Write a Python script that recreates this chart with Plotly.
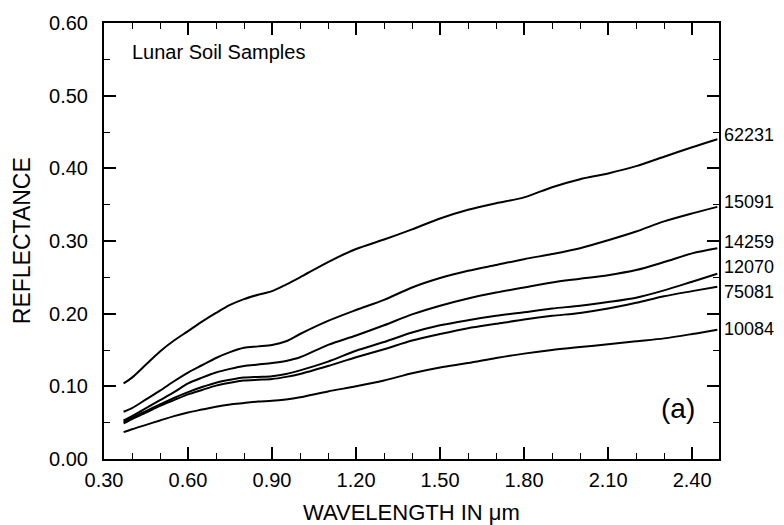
import plotly.graph_objects as go

wavelength = [0.37, 0.40, 0.45, 0.50, 0.55, 0.60, 0.65, 0.70, 0.75, 0.80, 0.85, 0.90, 0.95, 1.00,
              1.10, 1.20, 1.30, 1.40, 1.50, 1.60, 1.70, 1.80, 1.90, 2.00, 2.10, 2.20, 2.30, 2.40, 2.49]

s62231 = [0.104, 0.112, 0.130, 0.148, 0.163, 0.176, 0.189, 0.201, 0.212, 0.220, 0.226, 0.231, 0.240, 0.250,
          0.271, 0.289, 0.302, 0.316, 0.331, 0.343, 0.352, 0.360, 0.374, 0.385, 0.393, 0.403, 0.416, 0.429, 0.440]
s15091 = [0.065, 0.070, 0.082, 0.094, 0.107, 0.119, 0.129, 0.139, 0.147, 0.153, 0.155, 0.157, 0.162, 0.172,
          0.190, 0.205, 0.219, 0.236, 0.249, 0.259, 0.267, 0.275, 0.282, 0.290, 0.301, 0.313, 0.327, 0.338, 0.347]
s14259 = [0.053, 0.059, 0.070, 0.081, 0.092, 0.104, 0.112, 0.119, 0.124, 0.128, 0.130, 0.132, 0.135, 0.140,
          0.157, 0.170, 0.184, 0.199, 0.211, 0.221, 0.229, 0.236, 0.243, 0.248, 0.253, 0.260, 0.271, 0.283, 0.290]
s12070 = [0.051, 0.057, 0.066, 0.075, 0.084, 0.092, 0.099, 0.105, 0.109, 0.112, 0.113, 0.114, 0.117, 0.122,
          0.134, 0.149, 0.161, 0.174, 0.184, 0.191, 0.197, 0.202, 0.207, 0.211, 0.216, 0.222, 0.232, 0.244, 0.255]
s75081 = [0.049, 0.055, 0.064, 0.073, 0.081, 0.089, 0.095, 0.101, 0.105, 0.108, 0.109, 0.110, 0.113, 0.117,
          0.128, 0.140, 0.151, 0.163, 0.172, 0.180, 0.186, 0.192, 0.197, 0.201, 0.207, 0.215, 0.224, 0.231, 0.237]
s10084 = [0.037, 0.041, 0.047, 0.053, 0.059, 0.064, 0.068, 0.072, 0.075, 0.077, 0.079, 0.080, 0.082, 0.085,
          0.093, 0.100, 0.108, 0.118, 0.126, 0.132, 0.139, 0.145, 0.150, 0.154, 0.158, 0.162, 0.166, 0.172, 0.178]

sample_names = ["62231", "15091", "14259", "12070", "75081", "10084"]
series = [s62231, s15091, s14259, s12070, s75081, s10084]
label_yshift = [4, 5, 6, 7, -5, 1]

FONT = "Liberation Sans, Arial, Helvetica, sans-serif"

fig = go.Figure()
for name, vals in zip(sample_names, series):
    fig.add_trace(go.Scatter(x=wavelength, y=vals, mode="lines", name=name,
                             line=dict(color="black", width=2, shape="spline", smoothing=0.8),
                             showlegend=False, hoverinfo="x+y+name"))

annotations = []
for name, vals, ys in zip(sample_names, series, label_yshift):
    annotations.append(dict(x=wavelength[-1], y=vals[-1], xref="x", yref="y", text=name,
                            showarrow=False, xanchor="left", yanchor="middle",
                            xshift=5, yshift=ys, font=dict(size=18, color="black", family=FONT)))

annotations += [
    dict(x=0.042, y=0.934, xref="paper", yref="paper", text="Lunar Soil Samples", showarrow=False,
         xanchor="left", yanchor="middle", font=dict(size=20, color="black", family=FONT)),
    dict(x=0.933, y=0.115, xref="paper", yref="paper", text="(a)", showarrow=False,
         xanchor="center", yanchor="middle", font=dict(size=28, color="black", family=FONT)),
    dict(x=0.5, y=-0.122, xref="paper", yref="paper", text="WAVELENGTH IN μm", showarrow=False,
         xanchor="center", yanchor="middle", font=dict(size=22, color="black", family=FONT)),
    dict(x=-0.133, y=0.5, xref="paper", yref="paper", text="REFLECTANCE", showarrow=False,
         textangle=-90, xanchor="center", yanchor="middle", font=dict(size=23, color="black", family=FONT)),
]

axis_common = dict(showline=True, linecolor="black", linewidth=2, mirror="ticks",
                   ticks="inside", ticklen=12, tickwidth=1.5, tickcolor="black",
                   showgrid=False, zeroline=False, tickformat=".2f", automargin=False,
                   tickfont=dict(size=20, color="black", family=FONT))

fig.update_layout(
    width=768, height=517,
    margin=dict(l=96, r=57, t=15, b=66),
    plot_bgcolor="white", paper_bgcolor="white",
    annotations=annotations,
    xaxis=dict(range=[0.30, 2.496], tick0=0.30, dtick=0.30, ticklabelstandoff=2,
               minor=dict(dtick=0.10, ticks="inside", ticklen=6, tickwidth=1.2, tickcolor="black"),
               **axis_common),
    yaxis=dict(range=[0.0, 0.60], tick0=0.0, dtick=0.10, ticklabelstandoff=10,
               minor=dict(dtick=0.05, ticks="inside", ticklen=6, tickwidth=1.2, tickcolor="black"),
               **axis_common),
)

fig.write_html("out.html")
